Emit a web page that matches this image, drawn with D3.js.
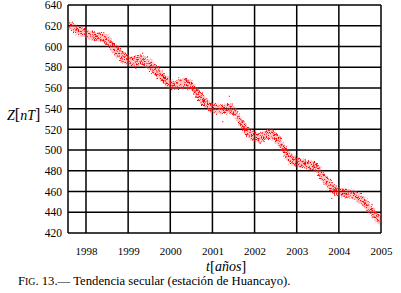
<html>
<head>
<style>
  body{margin:0;background:#fff}
  .fig .grid line{stroke:#000;stroke-width:1.5px}
</style>
</head>
<body>
<div id="secular"></div>
<script src="https://d3js.org/d3.v7.min.js"></script>
<script>

// secular variation, Huancayo station
var years = [1997.60, 1997.79, 1997.99, 1998.19, 1998.39, 1998.51, 1998.66, 1998.82, 1998.98, 1999.14,
             1999.30, 1999.45, 1999.61, 1999.77, 1999.93, 2000.05, 2000.15, 2000.31, 2000.47, 2000.63,
             2000.78, 2000.94, 2001.10, 2001.26, 2001.42, 2001.58, 2001.73, 2001.89, 2002.05, 2002.21,
             2002.37, 2002.53, 2002.68, 2002.80, 2002.96, 2003.12, 2003.28, 2003.43, 2003.59, 2003.75,
             2003.91, 2004.07, 2004.22, 2004.38, 2004.54, 2004.70, 2004.86, 2004.98];
var zMean  = [621, 616, 613, 609.5, 609, 605.5, 598, 592, 587, 585.5,
              587, 584, 579, 572.5, 566, 562.5, 563, 564.5, 563, 555,
              548, 542, 539.5, 539.5, 540, 534, 523, 516, 512.5, 513.5,
              515.5, 511, 502, 494, 489, 487, 485.5, 484, 476, 468,
              461.5, 459, 458, 456.5, 452, 445, 437.5, 432.5];
var zSpread = [5, 4.5, 4.5, 4.5, 4.5, 5, 5.5, 5.5, 5, 4.5,
               5, 5, 5.5, 5.5, 5, 4.5, 4.5, 5, 5, 5.5,
               5.5, 5, 4.5, 4.5, 5, 5.5, 5.5, 5, 4.5, 4.5,
               5, 5, 5.5, 5.5, 5, 4.5, 4.5, 5, 5.5, 5.5,
               5, 4.5, 4.5, 4.5, 5, 5.5, 5.5, 5];
// isolated points away from the band
var outYears = [1999.18, 1999.34, 2001.24, 2001.40, 2002.13, 2003.83];
var outZ     = [579, 593.5, 527.5, 552, 506.5, 453.5];

var yTicks = [420, 440, 460, 480, 500, 520, 540, 560, 580, 600, 620, 640];
var xTicks = [1998, 1999, 2000, 2001, 2002, 2003, 2004, 2005];

(function () {
  var
    W = 401, H = 293,
    left = 68, right = 381, top = 5, bottom = 233,
    serif = "'Liberation Serif', 'Times New Roman', Times, serif",
    xScale = d3.scaleLinear().domain([1997.573, 2005]).range([left, right]),
    yScale = d3.scaleLinear().domain([420, 640]).range([bottom, top]),
    svg = d3.select('#secular').append('svg')
      .attr('class', 'fig')
      .attr('width', W)
      .attr('height', H),
    defs = svg.append('defs'),
    rows = years.map(function (t, i) { return {t: t, z: zMean[i], s: zSpread[i]}; });

  svg.append('rect').attr('width', W).attr('height', H).attr('fill', '#fff');

  // speckle texture for the daily-value cloud
  var pat = defs.append('pattern')
    .attr('id', 'speck')
    .attr('patternUnits', 'userSpaceOnUse')
    .attr('width', 6).attr('height', 5);
  [[0, 0, 1], [3, 1, .7], [5, 3, 1], [1, 3, .6], [4, 4, .9], [5, 0, .5], [2, 2, 1],
   [4, 2, .6], [0, 4, .8], [2, 0, .5], [1, 1, .4], [3, 3, .5]]
    .forEach(function (p) {
      pat.append('rect')
        .attr('x', p[0]).attr('y', p[1])
        .attr('width', 1).attr('height', 1)
        .attr('fill', '#ff0000')
        .attr('opacity', p[2]);
    });

  // ragged edge for the band
  var rough = defs.append('filter').attr('id', 'rough')
    .attr('x', '-5%').attr('y', '-5%').attr('width', '110%').attr('height', '110%');
  rough.append('feTurbulence')
    .attr('type', 'fractalNoise').attr('baseFrequency', 0.6)
    .attr('numOctaves', 2).attr('seed', 3).attr('result', 'n');
  rough.append('feDisplacementMap')
    .attr('in', 'SourceGraphic').attr('in2', 'n')
    .attr('scale', 5)
    .attr('xChannelSelector', 'R').attr('yChannelSelector', 'G');

  // grid
  var grid = svg.append('g').attr('class', 'grid');
  grid.selectAll('.h').data(yTicks).enter().append('line')
    .attr('x1', left).attr('x2', right)
    .attr('y1', function (d) { return yScale(d); })
    .attr('y2', function (d) { return yScale(d); });
  grid.selectAll('.v').data(xTicks).enter().append('line')
    .attr('y1', top).attr('y2', bottom)
    .attr('x1', function (d) { return xScale(d); })
    .attr('x2', function (d) { return xScale(d); });
  grid.append('line').attr('x1', left).attr('x2', left).attr('y1', top).attr('y2', bottom);

  // data band
  var band = d3.area()
    .curve(d3.curveMonotoneX)
    .x(function (d) { return xScale(d.t); })
    .y0(function (d) { return yScale(d.z - d.s); })
    .y1(function (d) { return yScale(d.z + d.s); });

  var cloud = svg.append('g').attr('filter', 'url(#rough)');
  cloud.append('path')
    .attr('d', band(rows))
    .attr('fill', '#ff5050')
    .attr('opacity', 0.35);
  cloud.append('path')
    .attr('d', band(rows))
    .attr('fill', 'url(#speck)');

  svg.selectAll('.out').data(outYears).enter().append('rect')
    .attr('x', function (d) { return xScale(d) - 0.5; })
    .attr('y', function (d, i) { return yScale(outZ[i]) - 0.5; })
    .attr('width', 1.2).attr('height', 1.2)
    .attr('fill', '#ff3030');

  // axes (labels only)
  var ya = svg.append('g')
    .attr('transform', 'translate(' + left + ',0)')
    .call(d3.axisLeft(yScale).tickValues(yTicks).tickSize(0).tickPadding(6));
  var xa = svg.append('g')
    .attr('transform', 'translate(0,' + bottom + ')')
    .call(d3.axisBottom(xScale).tickValues(xTicks).tickFormat(d3.format('d')).tickSize(0).tickPadding(14));
  [ya, xa].forEach(function (a) {
    a.select('.domain').remove();
    a.attr('font-family', serif);
  });
  ya.attr('font-size', 11.5);
  xa.attr('font-size', 11);

  // axis titles
  var zt = svg.append('text').attr('x', 7).attr('y', 120)
    .attr('font-family', serif).attr('font-size', 14);
  zt.append('tspan').attr('font-style', 'italic').text('Z');
  zt.append('tspan').attr('font-size', 16).text('[');
  zt.append('tspan').attr('font-style', 'italic').text('nT');
  zt.append('tspan').attr('font-size', 16).text(']');

  var tt = svg.append('text').attr('x', 206).attr('y', 271)
    .attr('font-family', serif).attr('font-size', 14);
  tt.append('tspan').attr('font-style', 'italic').text('t');
  tt.append('tspan').attr('font-size', 15).text('[');
  tt.append('tspan').attr('font-style', 'italic').text('años');
  tt.append('tspan').attr('font-size', 15).text(']');

  // caption
  var cap = svg.append('text').attr('x', 18).attr('y', 285)
    .attr('font-family', serif).attr('font-size', 12.7);
  cap.append('tspan').text('F');
  cap.append('tspan').attr('font-size', 9.8).text('IG');
  cap.append('tspan').text('. 13.— Tendencia secular (estación de Huancayo).');
})();
</script>
</body>
</html>
